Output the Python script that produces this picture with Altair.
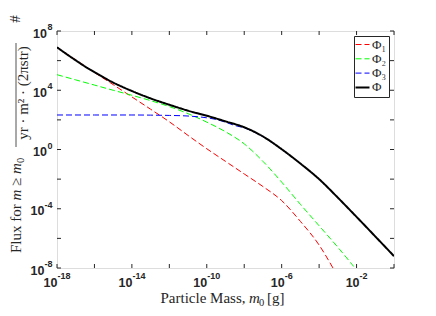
import altair as alt
import pandas as pd

# ---- data: log10 of particle mass [g] and log10 of flux ----
red_x = [-18, -17, -16, -15, -14, -13, -12, -11, -10, -9, -8, -7, -6, -5, -4, -3.26]
red_y = [6.9, 6.05, 5.2, 4.38, 3.55, 2.72, 1.87, 0.95, 0.05, -0.8, -1.65, -2.5, -3.45, -4.85, -6.45, -8.0]

green_x = [-18, -17, -16, -15, -14, -13, -12, -11, -10, -9, -8, -7, -6, -5, -4, -3, -2.15]
green_y = [5.05, 4.7, 4.35, 4.0, 3.66, 3.3, 2.9, 2.42, 1.85, 1.2, 0.38, -0.8, -2.2, -3.7, -5.15, -6.6, -7.9]

blue_x = [-18, -16, -14, -13, -12, -11, -10, -9.5, -9, -8.5, -8, -7, -6, -5, -4, -3, -2, -1, 0]
blue_y = [2.33, 2.33, 2.33, 2.32, 2.3, 2.26, 2.14, 2.03, 1.84, 1.62, 1.46, 0.87, 0.01, -0.95, -2.0, -3.25, -4.55, -5.87, -7.2]

black_x = [-18, -17.5, -17, -16.5, -16, -15, -14, -13, -12, -11, -10, -9, -8, -7, -6, -5, -4, -3, -2, -1, 0]
black_y = [6.9, 6.45, 6.02, 5.6, 5.22, 4.52, 3.95, 3.45, 3.02, 2.62, 2.28, 1.9, 1.5, 0.88, 0.02, -0.95, -2.0, -3.25, -4.55, -5.87, -7.2]

series_names = ["Φ₁", "Φ₂", "Φ₃", "Φ"]
series_colors = ["#ff0000", "#00ff00", "#0000ff", "#000000"]

x_grid = [-18, -16, -14, -12, -10, -8, -6, -4, -2, 0]
y_grid = [-8, -6, -4, -2, 0, 2, 4, 6, 8]
x_labels = [-18, -14, -10, -6, -2]
y_labels = [8, 4, 0, -4, -8]

W, H = 337, 237
TXT = "#262626"
SANS = "Liberation Sans"
SERIF = "Liberation Serif"

rows = []
for name, xs, ys in zip(series_names, [red_x, green_x, blue_x, black_x], [red_y, green_y, blue_y, black_y]):
    for i, (a, b) in enumerate(zip(xs, ys)):
        rows.append({"series": name, "logm": a, "logf": b, "i": i})
df = pd.DataFrame(rows)

xscale = alt.Scale(domain=[-18, 0], nice=False, zero=False)
yscale = alt.Scale(domain=[-8, 8], nice=False, zero=False)

color = alt.Color("series:N", scale=alt.Scale(domain=series_names, range=series_colors),
                  legend=alt.Legend(title=None, orient="none", legendX=297, legendY=5,
                                    symbolType="stroke", symbolSize=196, rowPadding=0.3,
                                    labelFont=SERIF, labelFontSize=13, labelColor=TXT,
                                    labelOffset=3, padding=2, strokeColor=TXT, fillColor="white",
                                    symbolStrokeWidth=alt.ExprRef("datum.value === 'Φ' ? 2 : 1")))
dash = alt.StrokeDash("series:N", scale=alt.Scale(domain=series_names,
                      range=[[6, 3], [6, 3], [6, 3], [1, 0]]), legend=alt.Legend(title=None))

xenc = alt.X("logm:Q", scale=xscale,
             axis=alt.Axis(values=x_grid, grid=True, gridColor="#e6e6e6", labels=False,
                           ticks=False, domain=False, title=None))
yenc = alt.Y("logf:Q", scale=yscale,
             axis=alt.Axis(values=y_grid, grid=True, gridColor="#e6e6e6", labels=False,
                           ticks=False, domain=False, title=None))

base = alt.Chart(df)
colored = base.transform_filter("datum.series != 'Φ'").mark_line(
    clip=True, interpolate="monotone", strokeWidth=1).encode(
    x=xenc, y=yenc, color=color, strokeDash=dash, detail="series:N", order="i:Q")
black = base.transform_filter("datum.series == 'Φ'").mark_line(
    clip=True, interpolate="monotone", strokeWidth=2).encode(
    x=xenc, y=yenc, color=color, strokeDash=dash, order="i:Q")

# inward ticks on all four sides
xt = alt.Chart(pd.DataFrame({"v": x_grid}))
yt = alt.Chart(pd.DataFrame({"v": y_grid}))
tx = lambda: alt.X("v:Q", scale=xscale, axis=None)
ty = lambda: alt.Y("v:Q", scale=yscale, axis=None)
tick_b = xt.mark_rule(color=TXT, strokeWidth=1).encode(x=tx(), y=alt.value(H), y2=alt.value(H - 4))
tick_t = xt.mark_rule(color=TXT, strokeWidth=1).encode(x=tx(), y=alt.value(0), y2=alt.value(4))
tick_l = yt.mark_rule(color=TXT, strokeWidth=1).encode(y=ty(), x=alt.value(0), x2=alt.value(4))
tick_r = yt.mark_rule(color=TXT, strokeWidth=1).encode(y=ty(), x=alt.value(W - 4), x2=alt.value(W))

# tick labels "10" + superscript exponent
xl = alt.Chart(pd.DataFrame({"v": x_labels, "e": [str(v) for v in x_labels]}))
yl = alt.Chart(pd.DataFrame({"v": y_labels, "e": [str(v) for v in y_labels]}))

x_ten_long = xl.transform_filter("length(datum.e) > 2").mark_text(
    align="right", baseline="alphabetic", font=SANS, fontWeight="bold", fontSize=12.5, color=TXT, dx=0.5
).encode(x=tx(), y=alt.value(H + 18.5), text=alt.value("10"))
x_ten_short = xl.transform_filter("length(datum.e) <= 2").mark_text(
    align="right", baseline="alphabetic", font=SANS, fontWeight="bold", fontSize=12.5, color=TXT, dx=3
).encode(x=tx(), y=alt.value(H + 18.5), text=alt.value("10"))
x_exp_long = xl.transform_filter("length(datum.e) > 2").mark_text(
    align="left", baseline="alphabetic", font=SANS, fontWeight="bold", fontSize=9, color=TXT, dx=0.5
).encode(x=tx(), y=alt.value(H + 10.5), text="e:N")
x_exp_short = xl.transform_filter("length(datum.e) <= 2").mark_text(
    align="left", baseline="alphabetic", font=SANS, fontWeight="bold", fontSize=9, color=TXT, dx=3
).encode(x=tx(), y=alt.value(H + 10.5), text="e:N")

y_ten_pos = yl.transform_filter("length(datum.e) == 1").mark_text(
    align="right", baseline="alphabetic", font=SANS, fontWeight="bold", fontSize=12.5, color=TXT, dy=6.5
).encode(y=ty(), x=alt.value(-10), text=alt.value("10"))
y_ten_neg = yl.transform_filter("length(datum.e) > 1").mark_text(
    align="right", baseline="alphabetic", font=SANS, fontWeight="bold", fontSize=12.5, color=TXT, dy=6.5
).encode(y=ty(), x=alt.value(-12.5), text=alt.value("10"))
y_exp = yl.mark_text(
    align="right", baseline="alphabetic", font=SANS, fontWeight="bold", fontSize=9, color=TXT, dy=-1
).encode(y=ty(), x=alt.value(-4.5), text="e:N")

# axis titles built from text pieces
one = alt.Chart(pd.DataFrame({"k": [0]}))

def txt(s, x, y, size=15, style="normal", align="left", angle=0, font=SERIF, weight="normal"):
    return one.mark_text(text=s, align=align, baseline="alphabetic", font=font, fontSize=size,
                         fontStyle=style, fontWeight=weight, angle=angle, color=TXT).encode(
        x=alt.value(x), y=alt.value(y))

xt_pieces = [
    txt("Particle Mass,", 188.5, H + 35, align="right"),
    txt("m", 192, H + 35, style="italic"),
    txt("0", 202, H + 38, size=10.5),
    txt("[g]", 210, H + 35),
]
yb = -36
yt_pieces = [
    txt("Flux for", yb, 222, angle=270),
    txt("m", yb, 169.5, style="italic", angle=270),
    txt("≥", yb, 155, angle=270),
    txt("m", yb, 143, style="italic", angle=270),
    txt("0", yb + 3, 132, size=10.5, angle=270),
    txt("#", -37, -12, align="center", angle=270),
    txt("yr · m² · (2πstr)", -29, 62, align="center", angle=270),
]
frac = one.mark_rule(color=TXT, strokeWidth=0.8).encode(x=alt.value(-41), y=alt.value(12), y2=alt.value(116))

chart = alt.layer(
    colored, black, tick_b, tick_t, tick_l, tick_r,
    x_ten_long, x_ten_short, x_exp_long, x_exp_short, y_ten_pos, y_ten_neg, y_exp,
    *xt_pieces, *yt_pieces, frac
).properties(
    width=W, height=H,
    autosize=alt.AutoSizeParams(type="none"),
    padding={"left": 49, "top": 23, "right": 30, "bottom": 40},
).configure_view(stroke=TXT, strokeWidth=1).configure(background="white")

chart.save("out.html", embed_options={"renderer": "svg", "actions": False})
